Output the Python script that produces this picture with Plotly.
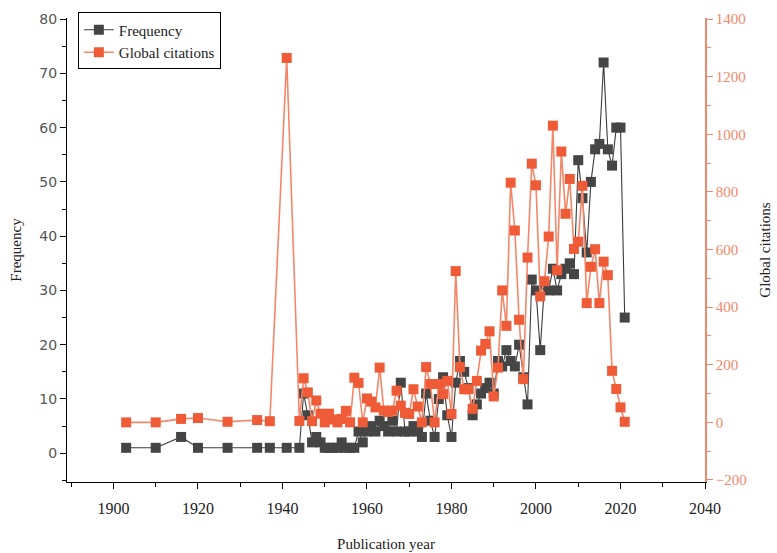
import plotly.graph_objects as go

years = [1903, 1910, 1916, 1920, 1927, 1934, 1937, 1941,
         1944, 1945, 1946, 1947, 1948, 1949,
         1950, 1951, 1952, 1953, 1954, 1955, 1956, 1957, 1958, 1959,
         1960, 1961, 1962, 1963, 1964, 1965, 1966, 1967, 1968, 1969,
         1970, 1971, 1972, 1973, 1974, 1975, 1976, 1977, 1978, 1979,
         1980, 1981, 1982, 1983, 1984, 1985, 1986, 1987, 1988, 1989,
         1990, 1991, 1992, 1993, 1994, 1995, 1996, 1997, 1998, 1999,
         2000, 2001, 2002, 2003, 2004, 2005, 2006, 2007, 2008, 2009,
         2010, 2011, 2012, 2013, 2014, 2015, 2016, 2017, 2018, 2019,
         2020, 2021]

frequency = [1, 1, 3, 1, 1, 1, 1, 1,
             1, 11, 7, 2, 3, 2,
             1, 1, 1, 1, 2, 1, 1, 1, 4, 2,
             4, 5, 4, 6, 5, 4, 6, 4, 13, 4,
             4, 5, 4, 3, 11, 6, 3, 10, 14, 7,
             3, 13, 17, 15, 12, 7, 9, 11, 12, 13,
             11, 17, 16, 19, 17, 16, 20, 14, 9, 32,
             30, 19, 31, 30, 34, 30, 33, 34, 35, 33,
             54, 47, 37, 50, 56, 57, 72, 56, 53, 60,
             60, 25]

citations = [0, 0, 12, 15, 2, 8, 4, 1265,
             5, 153, 104, 4, 76, 30,
             0, 30, 10, 0, 12, 40, 0, 155, 137, 0,
             83, 72, 52, 190, 41, 36, 41, 110, 58, 33,
             29, 115, 55, 0, 192, 133, 0, 133, 98, 144,
             29, 525, 192, 115, 115, 47, 144, 249, 272, 316,
             90, 190, 458, 335, 832, 666, 356, 150, 572, 898,
             823, 437, 490, 645, 1030, 528, 940, 724, 845, 602,
             627, 821, 414, 540, 601, 414, 558, 511, 179, 116,
             52, 2]

x_ticks = [1900, 1920, 1940, 1960, 1980, 2000, 2020, 2040]
left_ticks = [0, 10, 20, 30, 40, 50, 60, 70, 80]
right_ticks = [-200, 0, 200, 400, 600, 800, 1000, 1200, 1400]

ORANGE = "#ef5b37"
ORANGE_LINE = "#f4876a"
DARK = "#3c3c3c"
SERIF = "Liberation Serif"
SANS = "DejaVu Sans"

fig = go.Figure()
fig.add_trace(go.Scatter(
    x=years, y=frequency, name="Frequency", mode="lines+markers",
    line=dict(color=DARK, width=1.1),
    marker=dict(symbol="square", size=10, color="#454545"),
    yaxis="y"))
fig.add_trace(go.Scatter(
    x=years, y=citations, name="Global citations", mode="lines+markers",
    line=dict(color=ORANGE_LINE, width=1.6),
    marker=dict(symbol="square", size=10, color=ORANGE),
    yaxis="y2"))

fig.update_layout(
    width=777, height=553,
    margin=dict(l=67, r=72, t=14, b=71),
    paper_bgcolor="white", plot_bgcolor="white",
    showlegend=True,
    legend=dict(x=0.017, y=1.012, xanchor="left", yanchor="top",
                bgcolor="white", bordercolor="black", borderwidth=1,
                font=dict(family=SERIF, size=15, color="#222"),
                tracegroupgap=0, itemwidth=30),
    xaxis=dict(range=[1889, 2040], tickvals=x_ticks, ticktext=[str(v) for v in x_ticks],
               automargin=False,
               showgrid=False, zeroline=False, showline=True, linecolor="black", linewidth=1,
               ticks="outside", ticklen=6, tickcolor="black", ticklabelstandoff=6,
               minor=dict(dtick=10, tick0=1890, ticks="outside", ticklen=4, tickcolor="black"),
               tickfont=dict(family=SERIF, size=16, color="#222"),
               title=dict(text="Publication year", font=dict(family=SERIF, size=15, color="#222"), standoff=22)),
    yaxis=dict(range=[-5.3, 80.2], tickvals=left_ticks, automargin=False,
               showgrid=False, zeroline=False, showline=True, linecolor="black", linewidth=1,
               ticks="outside", ticklen=6, tickcolor="black",
               minor=dict(dtick=5, tick0=0, ticks="outside", ticklen=4, tickcolor="black"),
               tickfont=dict(family=SANS, size=14, color="#555"),
               title=dict(text="Frequency", font=dict(family=SERIF, size=15, color="#222"), standoff=14)),
    yaxis2=dict(range=[-207, 1403.6], tickvals=right_ticks, overlaying="y", side="right",
                automargin=False,
                showgrid=False, zeroline=False, showline=True, linecolor=ORANGE_LINE, linewidth=1.5,
                ticks="outside", ticklen=6, tickcolor=ORANGE_LINE,
                minor=dict(dtick=100, tick0=0, ticks="outside", ticklen=4, tickcolor=ORANGE_LINE),
                tickfont=dict(family=SERIF, size=15, color=ORANGE_LINE),
                title=dict(text="Global citations", font=dict(family=SERIF, size=15, color="#222"), standoff=14)),
)

fig.write_html("out.html")
